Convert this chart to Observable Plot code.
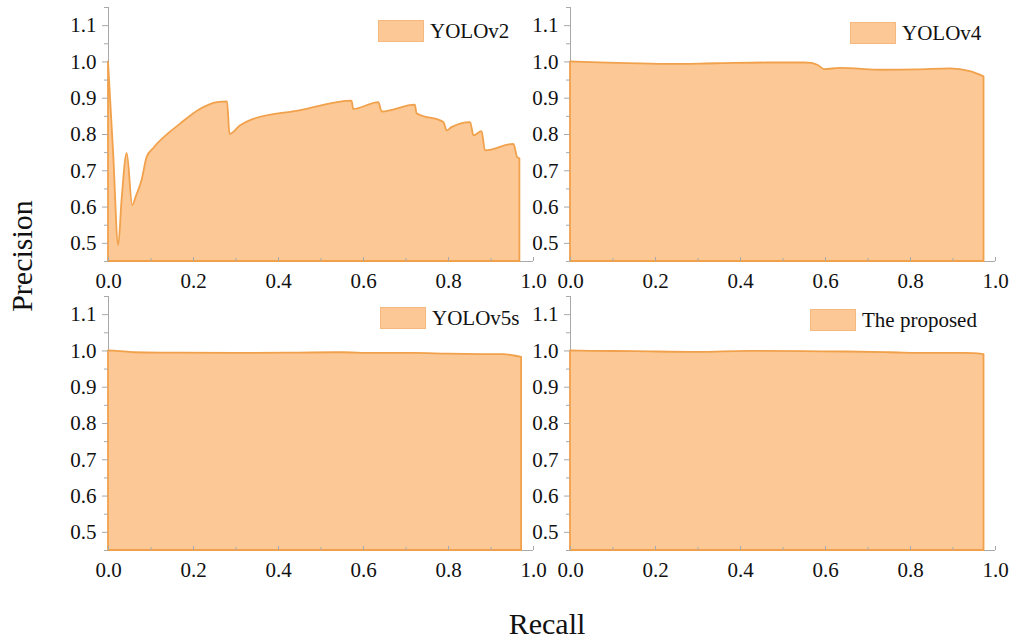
<!DOCTYPE html>
<html><head><meta charset="utf-8">
<script src="https://cdn.jsdelivr.net/npm/d3@7"></script>
<script src="https://cdn.jsdelivr.net/npm/@observablehq/plot@0.6"></script>
<style>
body{margin:0;background:#fff;font-family:"Liberation Serif","Times New Roman",serif;}
#wrap{position:relative;width:1013px;height:641px;overflow:hidden;background:#fff;}
.panel{position:absolute;}
.leg{position:absolute;display:flex;align-items:center;font-size:21px;color:#111;height:24px;white-space:nowrap;}
.sw{width:46px;height:22px;background:#fcc996;border:1px solid #f5b87e;margin-right:6px;box-sizing:border-box;}
.title{position:absolute;font-size:30px;color:#111;white-space:nowrap;}
</style></head><body><div id="wrap"></div>
<script>
// ---- data ----
const seriesNames = ["YOLOv2", "YOLOv4", "YOLOv5s", "The proposed"];

const v2Recall    = [0, 0.012, 0.024, 0.032, 0.044, 0.057, 0.066, 0.079, 0.091, 0.107, 0.169, 0.216, 0.256, 0.28, 0.286, 0.311, 0.34, 0.45, 0.573, 0.577, 0.636, 0.644, 0.722, 0.726, 0.789, 0.797, 0.808, 0.852, 0.86, 0.879, 0.887, 0.954, 0.963, 0.968];
const v2Precision = [1.0, 0.75, 0.494, 0.62, 0.748, 0.604, 0.63, 0.673, 0.737, 0.762, 0.828, 0.869, 0.888, 0.89, 0.8, 0.824, 0.841, 0.865, 0.892, 0.869, 0.888, 0.862, 0.881, 0.857, 0.833, 0.81, 0.819, 0.833, 0.796, 0.808, 0.755, 0.773, 0.736, 0.733];

const v4Recall    = [0, 0.031, 0.11, 0.227, 0.345, 0.463, 0.55, 0.568, 0.583, 0.598, 0.635, 0.737, 0.816, 0.894, 0.941, 0.973];
const v4Precision = [1.0, 0.999, 0.996, 0.993, 0.995, 0.997, 0.997, 0.996, 0.99, 0.979, 0.982, 0.977, 0.978, 0.981, 0.973, 0.959];

const v5Recall    = [0, 0.02, 0.06, 0.15, 0.3, 0.45, 0.55, 0.62, 0.72, 0.8, 0.9, 0.93, 0.955, 0.972];
const v5Precision = [1.0, 0.999, 0.995, 0.994, 0.993, 0.994, 0.995, 0.993, 0.993, 0.991, 0.990, 0.990, 0.986, 0.982];

const propRecall    = [0, 0.05, 0.15, 0.3, 0.42, 0.55, 0.65, 0.75, 0.85, 0.93, 0.973];
const propPrecision = [1.0, 0.999, 0.998, 0.996, 0.999, 0.998, 0.997, 0.995, 0.993, 0.993, 0.99];

const xTicks = [0, 0.2, 0.4, 0.6, 0.8, 1.0];
const xMinor = [0.1, 0.3, 0.5, 0.7, 0.9];
const yTicks = [0.5, 0.6, 0.7, 0.8, 0.9, 1.0, 1.1];
const yMinor = [0.45, 0.55, 0.65, 0.75, 0.85, 0.95, 1.05, 1.15];
const xDomain = [0, 1];
const yDomain = [0.45, 1.15];

// ---- styling ----
const FILL = "#fcc996", STROKE = "#f1a14b", AXIS = "#a9a9a9";

const wrap = document.getElementById("wrap");

function panel(rec, prec, name, pos, legendPos) {
  const data = rec.map((r, i) => ({r, p: prec[i]}));
  const chart = Plot.plot({
    width: pos.width, height: pos.height,
    marginLeft: pos.mL, marginRight: pos.mR, marginTop: pos.mT, marginBottom: pos.mB,
    x: {domain: xDomain, axis: null},
    y: {domain: yDomain, axis: null},
    style: {fontFamily: '"Liberation Serif","Times New Roman",serif', fontSize: "21px", color: "#111", overflow: "visible", background: "transparent"},
    marks: [
      Plot.ruleX([xDomain[0]], {y1: yDomain[0], y2: yDomain[1], stroke: AXIS, strokeWidth: 1}),
      Plot.ruleY([yDomain[0]], {x1: xDomain[0], x2: xDomain[1], stroke: AXIS, strokeWidth: 1}),
      Plot.areaY(data, {x: "r", y1: yDomain[0], y2: "p", curve: "monotone-x", fill: FILL, stroke: STROKE, strokeWidth: 1.8}),
      Plot.ruleY(yTicks, {y: d => d, x1: xDomain[0], x2: xDomain[0], insetLeft: -6, stroke: AXIS}),
      Plot.ruleY(yMinor, {y: d => d, x1: xDomain[0], x2: xDomain[0], insetLeft: -4, stroke: AXIS}),
      Plot.ruleX(xTicks, {x: d => d, y1: yDomain[0], y2: yDomain[0], insetTop: -4, stroke: AXIS}),
      Plot.ruleX(xMinor, {x: d => d, y1: yDomain[0], y2: yDomain[0], insetTop: -3, stroke: AXIS}),
      Plot.axisY({ticks: yTicks, tickSize: 0, tickPadding: 12, tickFormat: ".1f", label: null}),
      Plot.axisX({ticks: xTicks, tickSize: 0, tickPadding: 12, tickFormat: ".1f", label: null})
    ]
  });
  chart.classList.add("panel");
  chart.style.left = pos.left + "px";
  chart.style.top = pos.top + "px";
  wrap.appendChild(chart);

  const leg = document.createElement("div");
  leg.className = "leg";
  leg.style.left = legendPos[0] + "px";
  leg.style.top = legendPos[1] + "px";
  leg.innerHTML = `<div class="sw"></div><span>${name}</span>`;
  wrap.appendChild(leg);
}

const topRow = {top: 0, height: 292, mT: 7, mB: 31};
const botRow = {top: 292, height: 300, mT: 4, mB: 42};
const leftCol = {left: 0, width: 548, mL: 108, mR: 15};
const rightCol = {left: 548, width: 465, mL: 22, mR: 18};

panel(v2Recall, v2Precision, seriesNames[0], {...topRow, ...leftCol}, [378, 19]);
panel(v4Recall, v4Precision, seriesNames[1], {...topRow, ...rightCol}, [850, 21]);
panel(v5Recall, v5Precision, seriesNames[2], {...botRow, ...leftCol}, [380, 306]);
panel(propRecall, propPrecision, seriesNames[3], {...botRow, ...rightCol}, [810, 308]);

const yt = document.createElement("div");
yt.className = "title";
yt.textContent = "Precision";
yt.style.left = "22px"; yt.style.top = "256px";
yt.style.transform = "translate(-50%,-50%) rotate(-90deg)";
wrap.appendChild(yt);

const xt = document.createElement("div");
xt.className = "title";
xt.textContent = "Recall";
xt.style.left = "547px"; xt.style.top = "624px";
xt.style.transform = "translate(-50%,-50%)";
wrap.appendChild(xt);
</script></body></html>
